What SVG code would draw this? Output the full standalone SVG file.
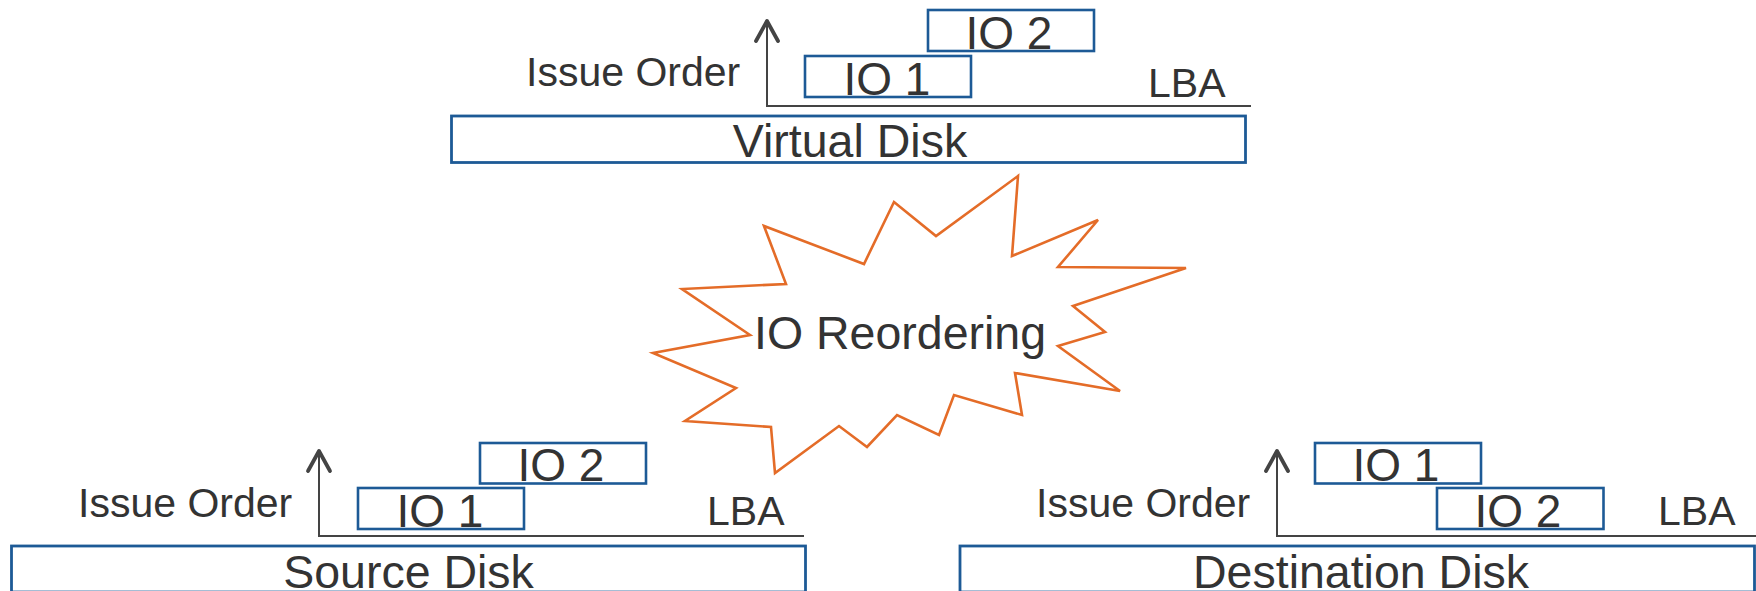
<svg xmlns="http://www.w3.org/2000/svg" width="1756" height="591" viewBox="0 0 1756 591">
  <style>
    .box { fill: none; stroke: #1D5A96; stroke-width: 2.6; }
    .disk { fill: #ffffff; stroke: #1D5A96; stroke-width: 2.8; }
    .axis { fill: none; stroke: #444444; stroke-width: 2; }
    .head { fill: none; stroke: #444444; stroke-width: 3.8; stroke-linecap: round; stroke-linejoin: round; }
    .lbl { font-family: "Liberation Sans", Arial, sans-serif; fill: #333333; }
    .axl { font-size: 41px; }
    .io { font-size: 46px; text-anchor: middle; }
    .big { font-size: 46.5px; text-anchor: middle; }
    .burst { fill: #ffffff; stroke: #E46C28; stroke-width: 2.6; stroke-linejoin: miter; }
  </style>

  <!-- Virtual disk view -->
  <g id="virtual">
    <polyline class="axis" points="767,21 767,106 1251,106"/>
    <polyline class="head" points="756,41 767,21 778,41"/>
    <text class="lbl axl" x="526" y="86">Issue Order</text>
    <text class="lbl axl" x="1148" y="97">LBA</text>
    <rect class="box" x="805" y="56" width="166" height="41"/>
    <text class="lbl io" x="887" y="95">IO 1</text>
    <rect class="box" x="928" y="10" width="166" height="41"/>
    <text class="lbl io" x="1009" y="49">IO 2</text>
    <rect class="disk" x="451.5" y="116" width="794" height="46.5"/>
    <text class="lbl big" x="850" y="157">Virtual Disk</text>
  </g>

  <!-- Reordering burst -->
  <g id="reorder">
    <polygon class="burst" points="1018,176 1012,256 1098,220 1058,267 1186,268 1073,306 1105,332 1058,346 1120,391 1015,373 1022,415 954,395 939,435 897,415 867,447 839,426 775,473 771,427 685,421 736,388 653,353 750,335 682,289 786,284 764,226 864,264 894,202 936,236"/>
    <text class="lbl big" x="900" y="349">IO Reordering</text>
  </g>

  <!-- Source disk view -->
  <g id="source">
    <polyline class="axis" points="319,451 319,536 804,536"/>
    <polyline class="head" points="308,471 319,451 330,471"/>
    <text class="lbl axl" x="78" y="517">Issue Order</text>
    <text class="lbl axl" x="707" y="525">LBA</text>
    <rect class="box" x="358" y="488" width="166" height="41"/>
    <text class="lbl io" x="440" y="527">IO 1</text>
    <rect class="box" x="480" y="443" width="166" height="40.5"/>
    <text class="lbl io" x="561" y="481">IO 2</text>
    <rect class="disk" x="11.5" y="546" width="794" height="46"/>
    <text class="lbl big" x="408.5" y="588">Source Disk</text>
  </g>

  <!-- Destination disk view -->
  <g id="destination">
    <polyline class="axis" points="1277,451 1277,536 1756,536"/>
    <polyline class="head" points="1266,471 1277,451 1288,471"/>
    <text class="lbl axl" x="1036" y="517">Issue Order</text>
    <text class="lbl axl" x="1658" y="525">LBA</text>
    <rect class="box" x="1315" y="443" width="166" height="40.5"/>
    <text class="lbl io" x="1396" y="481">IO 1</text>
    <rect class="box" x="1437" y="488" width="166.5" height="41"/>
    <text class="lbl io" x="1518" y="527">IO 2</text>
    <rect class="disk" x="960" y="546" width="794.5" height="46"/>
    <text class="lbl big" x="1361" y="588">Destination Disk</text>
  </g>
</svg>
